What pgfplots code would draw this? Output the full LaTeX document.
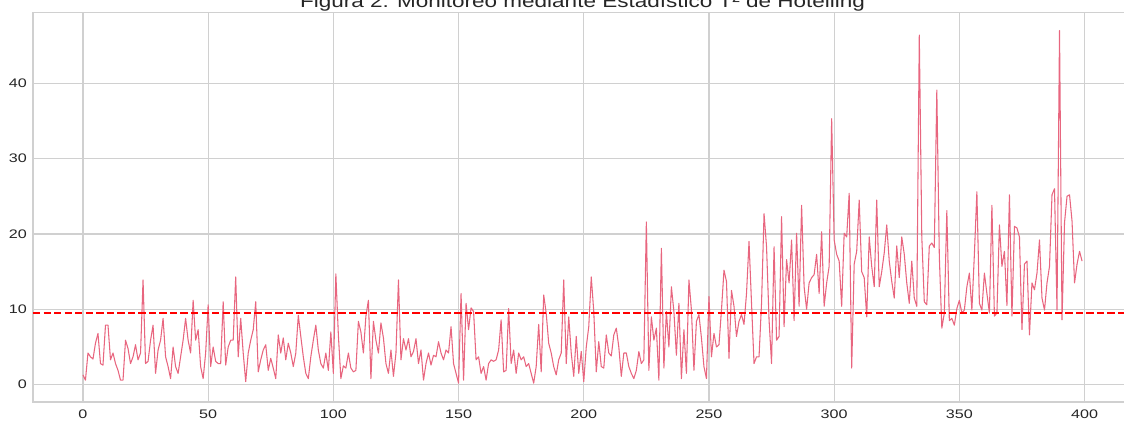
\documentclass[border=0pt]{standalone}
\usepackage{pgfplots}
\pgfplotsset{compat=1.18}
\usepackage{fontspec}
\setmainfont{Liberation Sans}
\newfontfamily\tickfont[FakeStretch=1.3]{Liberation Sans}
\newfontfamily\titlefont[FakeStretch=1.25]{Liberation Sans}
\definecolor{gridc}{HTML}{D0D0D0}
\definecolor{linec}{HTML}{E8667F}
\definecolor{textc}{HTML}{262626}
\begin{document}
\begin{tikzpicture}
\begin{axis}[name=ax,
  scale only axis, width=824.25pt, height=292pt,
  xmin=-19.95, xmax=418.95, ymin=-2.3, ymax=49.37,
  xtick={0,50,...,400}, ytick={0,10,...,40},
  grid=major, major grid style={color=gridc, line width=0.85pt},
  axis line style={color=gridc, line width=1pt},
  major tick length=0pt,
  /pgf/number format/assume math mode=true,
  tick label style={font=\tickfont\fontsize{9.3}{11}\selectfont, text=textc, inner sep=0pt},
  xticklabel style={yshift=-5.6pt},
  yticklabel style={xshift=-4.5pt},
  clip=true]
\addplot[color=linec, line width=0.8pt, line join=round] table[row sep=\\] {
x y\\
0 1.3\\ 1 0.6\\ 2 4.2\\ 3 3.7\\ 4 3.4\\ 5 5.5\\ 6 6.8\\ 7 2.8\\ 8 2.6\\ 9 7.9\\
10 7.9\\ 11 3.3\\ 12 4.2\\ 13 2.8\\ 14 1.9\\ 15 0.6\\ 16 0.6\\ 17 5.9\\ 18 4.8\\ 19 2.8\\
20 3.7\\ 21 5.3\\ 22 3.3\\ 23 4.2\\ 24 13.9\\ 25 2.8\\ 26 3.1\\ 27 5.9\\ 28 7.9\\ 29 1.5\\
30 4.6\\ 31 5.9\\ 32 8.8\\ 33 3.7\\ 34 2.4\\ 35 0.8\\ 36 5.0\\ 37 2.4\\ 38 1.5\\ 39 3.7\\
40 5.9\\ 41 8.8\\ 42 5.9\\ 43 4.2\\ 44 11.2\\ 45 5.9\\ 46 7.3\\ 47 2.4\\ 48 0.8\\ 49 4.2\\
50 10.6\\ 51 2.4\\ 52 5.0\\ 53 3.1\\ 54 2.8\\ 55 2.8\\ 56 11.0\\ 57 2.6\\ 58 5.0\\ 59 5.9\\
60 5.9\\ 61 14.3\\ 62 3.7\\ 63 8.8\\ 64 4.2\\ 65 0.4\\ 66 4.2\\ 67 5.9\\ 68 7.3\\ 69 11.0\\
70 1.7\\ 71 3.3\\ 72 4.6\\ 73 5.3\\ 74 1.9\\ 75 3.5\\ 76 2.2\\ 77 0.8\\ 78 6.6\\ 79 4.2\\
80 6.2\\ 81 3.3\\ 82 5.5\\ 83 4.2\\ 84 2.4\\ 85 4.2\\ 86 9.2\\ 87 6.4\\ 88 3.7\\ 89 1.5\\
90 0.8\\ 91 3.7\\ 92 5.9\\ 93 7.9\\ 94 4.6\\ 95 2.8\\ 96 2.2\\ 97 4.2\\ 98 1.9\\ 99 7.0\\
100 1.5\\ 101 14.7\\ 102 6.6\\ 103 0.8\\ 104 2.5\\ 105 2.2\\ 106 4.2\\ 107 2.2\\ 108 1.7\\ 109 1.9\\
110 8.4\\ 111 7.0\\ 112 4.2\\ 113 9.1\\ 114 11.2\\ 115 0.8\\ 116 8.4\\ 117 5.9\\ 118 4.2\\ 119 8.2\\
120 6.2\\ 121 2.8\\ 122 1.5\\ 123 4.6\\ 124 1.1\\ 125 4.2\\ 126 13.9\\ 127 3.3\\ 128 6.1\\ 129 4.6\\
130 6.1\\ 131 3.7\\ 132 4.4\\ 133 6.1\\ 134 2.8\\ 135 4.6\\ 136 0.6\\ 137 2.8\\ 138 4.2\\ 139 2.6\\
140 3.9\\ 141 3.7\\ 142 5.7\\ 143 4.2\\ 144 3.3\\ 145 4.6\\ 146 4.2\\ 147 7.7\\ 148 2.8\\ 149 1.5\\
150 0.2\\ 151 12.1\\ 152 0.6\\ 153 10.8\\ 154 7.3\\ 155 10.2\\ 156 9.7\\ 157 3.3\\ 158 3.7\\ 159 1.5\\
160 2.4\\ 161 0.6\\ 162 2.8\\ 163 3.3\\ 164 3.1\\ 165 3.3\\ 166 4.6\\ 167 8.6\\ 168 1.7\\ 169 1.9\\
170 10.1\\ 171 2.8\\ 172 4.6\\ 173 1.5\\ 174 4.2\\ 175 3.3\\ 176 3.7\\ 177 2.4\\ 178 2.8\\ 179 1.5\\
180 0.2\\ 181 2.4\\ 182 8.0\\ 183 1.7\\ 184 11.9\\ 185 9.5\\ 186 5.5\\ 187 4.2\\ 188 2.4\\ 189 1.3\\
190 3.3\\ 191 4.2\\ 192 13.9\\ 193 2.8\\ 194 9.0\\ 195 4.2\\ 196 1.1\\ 197 6.4\\ 198 1.5\\ 199 4.4\\
200 0.4\\ 201 5.0\\ 202 7.7\\ 203 14.3\\ 204 9.7\\ 205 1.7\\ 206 5.7\\ 207 2.4\\ 208 2.2\\ 209 6.6\\
210 4.2\\ 211 3.8\\ 212 6.6\\ 213 7.5\\ 214 5.0\\ 215 1.1\\ 216 4.2\\ 217 4.2\\ 218 2.4\\ 219 1.5\\
220 0.8\\ 221 1.9\\ 222 4.4\\ 223 2.8\\ 224 3.3\\ 225 21.6\\ 226 1.9\\ 227 9.0\\ 228 5.9\\ 229 7.5\\
230 0.6\\ 231 18.1\\ 232 2.2\\ 233 9.7\\ 234 5.0\\ 235 13.0\\ 236 9.7\\ 237 3.9\\ 238 10.8\\ 239 0.8\\
240 7.3\\ 241 1.5\\ 242 13.9\\ 243 9.9\\ 244 1.9\\ 245 8.4\\ 246 9.3\\ 247 6.2\\ 248 2.4\\ 249 0.8\\
250 11.7\\ 251 3.7\\ 252 6.8\\ 253 5.0\\ 254 5.3\\ 255 9.9\\ 256 15.2\\ 257 13.7\\ 258 3.5\\ 259 12.5\\
260 10.4\\ 261 6.4\\ 262 8.4\\ 263 9.3\\ 264 8.0\\ 265 12.1\\ 266 19.0\\ 267 10.8\\ 268 2.8\\ 269 3.7\\
270 3.7\\ 271 10.8\\ 272 22.7\\ 273 18.3\\ 274 8.6\\ 275 2.8\\ 276 18.3\\ 277 5.9\\ 278 6.4\\ 279 22.3\\
280 7.7\\ 281 16.6\\ 282 13.5\\ 283 19.2\\ 284 8.5\\ 285 20.1\\ 286 10.4\\ 287 23.8\\ 288 13.0\\ 289 10.0\\
290 13.5\\ 291 14.2\\ 292 14.6\\ 293 17.3\\ 294 12.1\\ 295 20.3\\ 296 10.4\\ 297 13.5\\ 298 15.7\\ 299 35.3\\
300 19.2\\ 301 17.3\\ 302 16.4\\ 303 10.4\\ 304 20.1\\ 305 19.6\\ 306 25.4\\ 307 2.2\\ 308 16.0\\ 309 17.7\\
310 24.5\\ 311 15.0\\ 312 14.2\\ 313 9.0\\ 314 19.6\\ 315 15.7\\ 316 13.0\\ 317 24.5\\ 318 13.0\\ 319 15.0\\
320 17.5\\ 321 21.2\\ 322 16.4\\ 323 13.7\\ 324 11.5\\ 325 18.4\\ 326 14.2\\ 327 19.6\\ 328 17.3\\ 329 13.5\\
330 10.8\\ 331 16.4\\ 332 11.5\\ 333 10.4\\ 334 46.4\\ 335 19.6\\ 336 11.0\\ 337 10.6\\ 338 18.4\\ 339 18.8\\
340 18.2\\ 341 39.1\\ 342 17.0\\ 343 7.5\\ 344 9.5\\ 345 23.1\\ 346 8.5\\ 347 8.8\\ 348 7.9\\ 349 10.1\\
350 11.2\\ 351 9.5\\ 352 9.9\\ 353 13.0\\ 354 14.8\\ 355 9.9\\ 356 17.3\\ 357 25.6\\ 358 10.8\\ 359 9.9\\
360 14.8\\ 361 12.1\\ 362 9.5\\ 363 23.8\\ 364 9.1\\ 365 9.5\\ 366 21.2\\ 367 15.7\\ 368 17.7\\ 369 10.5\\
370 25.2\\ 371 9.1\\ 372 21.0\\ 373 20.8\\ 374 19.6\\ 375 7.3\\ 376 16.0\\ 377 16.4\\ 378 6.6\\ 379 13.5\\
380 12.6\\ 381 14.8\\ 382 19.2\\ 383 11.5\\ 384 9.9\\ 385 13.5\\ 386 15.7\\ 387 25.2\\ 388 26.0\\ 389 9.9\\
390 47.0\\ 391 8.6\\ 392 21.5\\ 393 25.0\\ 394 25.2\\ 395 21.7\\ 396 13.5\\ 397 16.0\\ 398 17.7\\ 399 16.4\\
};
\addplot[color=red, line width=1.5pt, dash pattern=on 5.5pt off 2.4pt] coordinates {(-19.95,9.55) (418.95,9.55)};
\end{axis}
\node[anchor=base, font=\titlefont\fontsize{13.5}{15}\selectfont, text=black!85, inner sep=0pt] at ([yshift=3.9pt]ax.north) {Figura 2: Monitoreo mediante Estadístico T² de Hotelling};
\pgfresetboundingbox
\path[use as bounding box] ([xshift=-24.75pt, yshift=-14.25pt]ax.south west) rectangle ([xshift=-6pt, yshift=9.5pt]ax.north east);
\end{tikzpicture}
\end{document}
